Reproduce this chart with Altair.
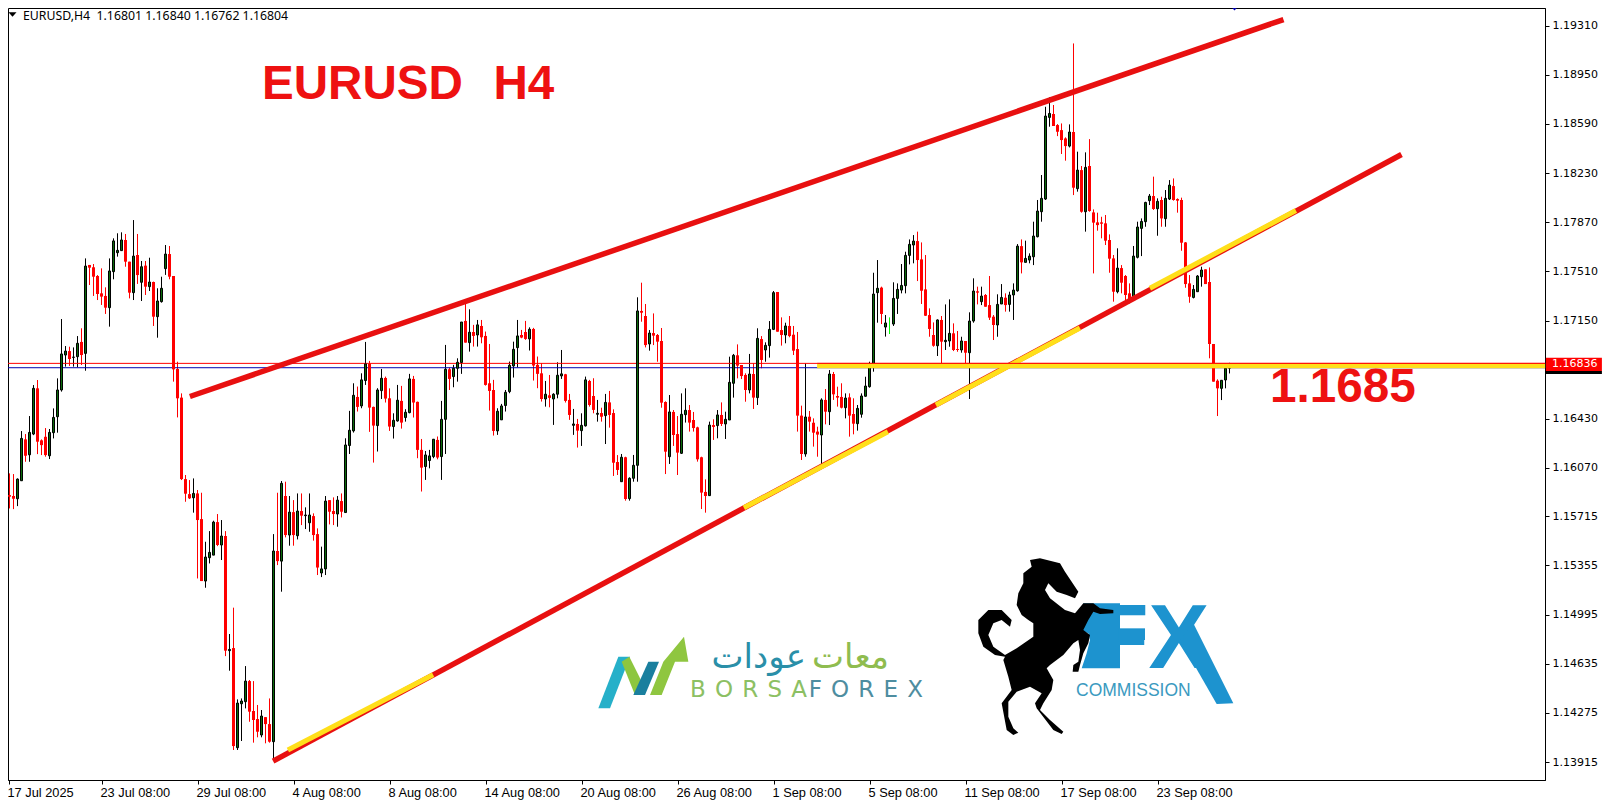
import altair as alt
import pandas as pd

# Prices are written as the digits after "1." (1.16836 -> 16836)
open_pts = [
16018,15871,15864,15844,15976,16279,16166,16318,16653,16272,
16298,16159,16328,16445,16641,16897,16926,16880,16885,16993,
16909,17557,17540,17476,17349,17330,17244,17508,17647,17662,
17740,17581,17354,17630,17430,17552,17398,17432,17178,17288,
17530,17637,17476,16795,16585,15988,15878,15851,15883,15695,
15241,15412,15431,15673,15505,15571,14731,14750,14020,14342,
14357,14508,14289,14230,14113,14244,14193,14064,15461,15387,
15864,15578,15746,15573,15754,15720,15668,15717,15585,15300,
15330,15834,15754,15732,15827,15743,16234,16341,16590,16524,
16710,16832,16517,16380,16636,16729,16580,16373,16414,16561,
16439,16475,16722,16554,16202,16080,16124,16153,16275,16153,
16426,16793,16739,16800,16842,17147,16988,17066,17044,17110,
17037,16690,16641,16341,16422,16527,16629,16817,16951,17044,
17066,17015,17088,16825,16763,16575,16602,16575,16610,16744,
16756,16568,16382,16392,16343,16378,16707,16597,16463,16472,
16453,16550,16472,16113,15969,16148,15845,15994,16089,17220,
17183,16978,17058,17044,17000,16553,16152,16480,16318,16177,
16460,16494,16421,16367,16148,15894,15867,16384,16380,16458,
16392,16421,16690,16895,16824,16751,16641,16758,16585,17014,
16934,16966,17085,17359,17080,17044,17110,17046,16941,16453,
16172,16445,16401,16336,16311,16568,16482,16758,16597,16590,
16511,16587,16465,16394,16463,16595,16665,16824,17354,17391,
17102,17129,17124,17312,17373,17405,17627,17703,17732,17598,
17378,17190,17044,16965,17154,16995,17000,17056,16941,16934,
17000,16914,17146,17364,17288,17337,17263,17178,17117,17271,
17317,17268,17337,17368,17695,17576,17593,17617,17764,17947,
18040,18638,18663,18582,18545,18484,18428,18531,18116,18252,
17947,18282,17942,17869,17869,17862,17740,17605,17361,17534,
17476,17349,17324,17613,17825,17874,18028,18062,17969,18033,
17896,18040,18135,18040,18033,17722,17422,17319,17361,17471,
17525,17432,16978,16709,16653,16714,16801]
high_pts = [
16047,16030,16025,15993,16340,16318,16450,16677,16714,16279,
16362,16355,16506,16726,17161,16963,16958,16953,17036,17093,
17605,17557,17564,17483,17532,17393,17605,17752,17789,17796,
17784,17581,17886,17784,17586,17586,17610,17435,17386,17471,
17703,17696,17476,16848,16616,16018,15981,15993,15908,15888,
15529,15607,15683,15732,15688,15607,14853,15046,14374,14381,
14618,14516,14508,14333,14296,14244,14381,15585,15888,15974,
15969,15864,15834,15883,15883,15781,15883,15737,15627,15493,
15864,15834,15854,15864,15883,16287,16488,16690,16666,16763,
16993,16854,16519,16654,16795,16739,16653,16470,16678,16671,
16500,16759,16744,16556,16282,16194,16202,16282,16300,16561,
16971,16805,16825,16873,17139,17276,17232,17118,17154,17154,
17069,16978,16715,16507,16539,16641,16849,16995,17154,17081,
17147,17100,17096,16886,16837,16707,16751,16617,16844,16934,
16759,16612,16502,16429,16470,16739,16715,16727,16568,16511,
16612,16634,16499,16164,16172,16152,16001,16165,17320,17427,
17271,17080,17202,17051,17095,16558,16604,16494,16450,16616,
16653,16531,16480,16372,16152,15986,16409,16426,16494,16550,
16482,16885,16905,16975,16824,16763,16905,16836,17093,17036,
16990,17146,17366,17359,17173,17134,17183,17110,17066,16526,
16836,16487,16433,16372,16580,16648,16787,16773,16665,16690,
16616,16616,16580,16531,16616,16738,16848,17500,17593,17398,
17190,17173,17430,17422,17564,17654,17744,17776,17801,17722,
17630,17239,17136,17158,17183,17268,17305,17129,17073,17031,
17000,17210,17459,17398,17398,17344,17476,17190,17342,17417,
17349,17361,17422,17710,17744,17735,17642,17874,18033,18216,
18716,18785,18729,18589,18594,18492,18587,19180,18387,18282,
18382,18479,17964,17940,17910,17923,17781,17630,17679,17556,
17483,17422,17696,17874,17898,18020,18077,18204,18045,18057,
18106,18179,18191,18045,18050,17725,17483,17410,17483,17544,
17525,17539,16978,16719,16714,16836,16840]
low_pts = [
15571,15773,15768,15790,15976,16115,16115,16310,16171,16164,
16152,16135,16286,16328,16629,16812,16817,16812,16807,16824,
16782,17410,17330,17300,17264,17198,17105,17452,17618,17660,
17544,17312,17300,17418,17293,17337,17366,17110,17024,17281,
17484,17452,16702,16440,15981,15822,15842,15742,15260,15241,
15192,15370,15431,15497,15395,14691,14584,14003,14003,14069,
14308,14210,14057,14096,14096,14052,14057,13934,15358,15163,
15561,15500,15500,15546,15651,15622,15602,15537,15285,15270,
15285,15656,15651,15639,15707,15743,16172,16329,16483,16507,
16678,16334,16109,16190,16575,16549,16341,16285,16409,16358,
16409,16470,16439,16141,15897,15982,16067,16141,16133,15982,
16172,16641,16661,16702,16759,16988,16922,16959,16959,16983,
16673,16490,16307,16312,16422,16483,16617,16732,16807,17020,
17008,16930,16710,16654,16556,16519,16514,16385,16580,16722,
16549,16422,16312,16219,16231,16373,16519,16470,16409,16409,
16245,16365,16011,16018,15969,15830,15830,15969,15969,17141,
16953,16929,16970,16848,16511,16025,16099,16231,16018,16172,
16402,16336,16336,16116,15769,15742,15864,16275,16287,16377,
16282,16421,16585,16726,16721,16555,16616,16502,16531,16800,
16848,16878,17080,17068,16966,16983,17027,16897,16336,16128,
16152,16336,16226,16152,16099,16389,16384,16568,16519,16506,
16433,16299,16316,16343,16438,16592,16658,16775,17134,17124,
17032,17051,17110,17198,17349,17349,17561,17569,17439,17271,
17183,17031,16958,16890,16836,16934,16958,16926,16921,16914,
16836,16575,17134,17268,17263,17251,17154,17007,17031,17271,
17215,17215,17154,17361,17495,17576,17569,17556,17759,17874,
18033,18570,18575,18501,18370,18321,18418,18069,18094,17940,
17801,17947,17495,17808,17752,17703,17500,17288,17349,17349,
17300,17275,17312,17605,17622,17837,17996,17960,17771,17837,
17837,18033,18028,17940,17661,17390,17280,17312,17361,17398,
17417,16873,16702,16450,16567,16653,16762]
close_pts = [
15871,15859,15844,15988,16286,16159,16330,16653,16262,16237,
16164,16330,16440,16641,16905,16926,16868,16882,16983,16897,
17549,17537,17471,17344,17325,17244,17513,17733,17664,17740,
17581,17354,17622,17483,17544,17398,17432,17178,17293,17386,
17637,17471,16792,16580,15988,15881,15847,15883,15688,15241,
15417,15451,15673,15505,15571,14731,14740,14032,14347,14362,
14508,14284,14223,14137,14252,14193,14064,15461,15387,15957,
15578,15746,15578,15754,15720,15725,15725,15578,15340,15330,
15827,15749,15732,15834,15749,16238,16346,16602,16517,16715,
16832,16512,16380,16641,16727,16578,16373,16419,16566,16402,
16478,16722,16549,16202,16072,16165,16158,16280,16146,16426,
16793,16722,16800,16844,17139,16988,17064,17037,17118,17027,
16678,16634,16341,16485,16524,16624,16822,16939,17037,17025,
17015,17086,16820,16759,16575,16610,16583,16610,16749,16759,
16561,16458,16392,16343,16382,16715,16531,16495,16470,16445,
16550,16458,16108,16055,16148,15842,15994,16089,17220,17207,
16970,17058,17039,16995,16548,16189,16480,16311,16182,16463,
16492,16402,16362,16133,15889,15864,16384,16370,16458,16392,
16426,16697,16895,16819,16743,16641,16758,16585,17019,16861,
16968,17085,17354,17068,17044,17110,17036,16929,16453,16172,
16443,16409,16328,16314,16568,16482,16758,16609,16585,16511,
16582,16453,16394,16506,16597,16670,16824,17344,17386,17198,
17132,17129,17312,17378,17407,17627,17708,17732,17593,17368,
17185,17088,16965,17154,16995,17005,17056,16934,16934,17000,
16914,17146,17366,17354,17329,17251,17171,17117,17268,17319,
17263,17337,17373,17695,17576,17605,17622,17769,17952,18045,
18648,18667,18575,18533,18472,18428,18531,18123,18252,17947,
18272,17952,17867,17849,17859,17735,17603,17361,17534,17427,
17337,17305,17622,17835,17876,18015,18062,17967,18023,17898,
18045,18142,18033,18028,17720,17417,17324,17378,17476,17520,
17417,16978,16702,16653,16712,16800,16804]

x_tick_labels = ["17 Jul 2025", "23 Jul 08:00", "29 Jul 08:00", "4 Aug 08:00", "8 Aug 08:00",
                 "14 Aug 08:00", "20 Aug 08:00", "26 Aug 08:00", "1 Sep 08:00", "5 Sep 08:00",
                 "11 Sep 08:00", "17 Sep 08:00", "23 Sep 08:00"]
y_ticks = [1.19310, 1.18950, 1.18590, 1.18230, 1.17870, 1.17510, 1.17150,
           1.16430, 1.16070, 1.15715, 1.15355, 1.14995, 1.14635, 1.14275, 1.13915]
ask, bid = 1.16836, 1.16804
header = "EURUSD,H4\u00a0\u00a01.16801 1.16840 1.16762 1.16804"

# Drawn lines: name, start bar, start price, end bar, end price
red_lines = [("upper", 46.1, 1.16593, 319.5, 1.19355),
             ("lower", 66.9, 1.13922, 349.0, 1.18366)]
yellow_lines = [("a", 70.6, 1.14003, 106.9, 1.14555),
                ("b", 184.6, 1.15778, 220.6, 1.16335),
                ("c", 232.6, 1.16531, 268.6, 1.17095),
                ("d", 286.1, 1.17386, 322.6, 1.17956),
                ("level", 202.9, 1.16819, 384.9, 1.16819)]

W, H = 1537, 772
x_scale = alt.Scale(domain=[0.625, 384.875], nice=False, zero=False, padding=0)
y_scale = alt.Scale(domain=[1.137833, 1.194397], nice=False, zero=False, padding=0)

df = pd.DataFrame({"i": range(len(open_pts)),
                   "o": [1 + v / 1e5 for v in open_pts], "h": [1 + v / 1e5 for v in high_pts],
                   "l": [1 + v / 1e5 for v in low_pts], "c": [1 + v / 1e5 for v in close_pts]})
df["top"] = df[["o", "c"]].max(axis=1)
df["bot"] = df[["o", "c"]].min(axis=1)
df["up"] = df["c"] >= df["o"]
df["wick"] = ["#ff0000" if not u else "#000000" for u in df["up"]]
df.loc[221, "wick"] = "#00ff00"

X = alt.X("i:Q", scale=x_scale, title=None)
Y = alt.Y("p:Q", scale=y_scale, title=None)


def Yf(field):
    return alt.Y(field, scale=y_scale, title=None)


x_axis = alt.Axis(values=[0.75] + [24 * k for k in range(1, 13)], title=None, grid=False,
                  labelExpr="[" + ",".join(f"'{t}'" for t in x_tick_labels) + "][round(datum.value/24)]",
                  labelAlign="left", labelFont="Liberation Sans", labelFontSize=12.8, labelColor="#000",
                  labelPadding=2, labelOffset=-1.5, labelOverlap=False, labelBound=False, labelFlush=False,
                  tickSize=4, tickColor="#000", domainColor="#000")
y_axis = alt.Axis(values=y_ticks, orient="right", title=None, grid=False, format=".5f",
                  labelFont="DejaVu Sans", labelFontSize=11, labelColor="#000", labelPadding=3,
                  labelOverlap=False, labelBound=False, tickSize=4, tickColor="#000", domainColor="#000")

wicks = alt.Chart(df).mark_rule(strokeWidth=1).encode(
    x=alt.X("i:Q", scale=x_scale, axis=x_axis, title=None),
    y=alt.Y("l:Q", scale=y_scale, axis=y_axis, title=None), y2="h:Q",
    color=alt.Color("wick:N", scale=None))

price_df = pd.DataFrame({"p": [ask, bid], "col": ["#ff0000", "#0000b0"]})
price_rules = alt.Chart(price_df).mark_rule(strokeWidth=1).encode(
    y=Y, color=alt.Color("col:N", scale=None))

down_bodies = alt.Chart(df[~df["up"]]).mark_bar(size=3, color="#ff0000").encode(
    x=X, y=Yf("top:Q"), y2="bot:Q")
up_bodies = alt.Chart(df[df["up"] & (df["i"] != 221)]).mark_bar(
    size=2, color="#0b6b0b", stroke="#000000", strokeWidth=1).encode(
    x=X, y=Yf("top:Q"), y2="bot:Q")


def line_df(lines):
    rows = []
    for name, x0, p0, x1, p1 in lines:
        rows += [{"name": name, "i": x0, "p": p0}, {"name": name, "i": x1, "p": p1}]
    return pd.DataFrame(rows)


red_layer = alt.Chart(line_df(red_lines)).mark_line(color="#e81010", strokeWidth=5.5, strokeCap="butt").encode(
    x=X, y=Y, detail="name:N")
yellow_layer = alt.Chart(line_df(yellow_lines)).mark_line(color="#ffdf1a", strokeWidth=5, strokeCap="butt").encode(
    x=X, y=Y, detail="name:N")
ask_over = alt.Chart(pd.DataFrame({"i": [202.9, 384.9], "p": [ask, ask]})).mark_line(
    color="#ff0000", strokeWidth=1).encode(x=X, y=Y)

boxes = pd.DataFrame({"i": [385.1, 385.1], "i2": [399.1, 399.1], "p": [1.16780, 1.16877],
                      "p2": [1.16758, 1.16780], "col": ["#000000", "#ff0000"]})
box_layer = alt.Chart(boxes).mark_rect().encode(
    x=X, x2="i2:Q", y=Y, y2="p2:Q", color=alt.Color("col:N", scale=None))
box_text = alt.Chart(pd.DataFrame({"i": [386.6], "p": [1.16829], "t": ["1.16836"]})).mark_text(
    align="left", baseline="middle", font="DejaVu Sans", fontSize=11, color="#ffffff").encode(x=X, y=Y, text="t:N")


def txt(text, px, py, size, color, font="Liberation Sans", weight="normal", align="left"):
    return alt.Chart(pd.DataFrame({"t": [text]})).mark_text(
        align=align, baseline="middle", font=font, fontSize=size, fontWeight=weight, color=color
    ).encode(x=alt.value(px - 8), y=alt.value(py - 8), text="t:N")


def shape(points, page_cx, page_cy, side, zc, color):
    half = zc[2]
    path = "M" + " L".join(f"{(a - zc[0]) / half:.4f} {(b - zc[1]) / half:.4f}" for a, b in points) + " Z"
    return alt.Chart(pd.DataFrame({"a": [0]})).mark_point(
        shape=path, size=side * side, filled=True, color=color, opacity=1, strokeWidth=0
    ).encode(x=alt.value(page_cx - 8), y=alt.value(page_cy - 8))


horse_outline = [(240,60),(270,55),(330,70),(345,95),(385,155),(375,175),(350,165),(320,155),(295,130),(285,150),
    (300,175),(345,210),(375,220),(400,190),(430,190),(450,205),(490,210),(490,220),(450,222),(430,215),(415,240),
    (400,270),(420,285),(415,310),(400,340),(390,375),(385,395),(368,395),(370,375),(385,365),(390,330),(385,300),
    (370,310),(340,345),(300,375),(290,385),(310,420),(305,450),(280,490),(270,510),(300,540),(340,575),(335,582),
    (310,570),(260,505),(255,490),(275,460),(240,440),(200,455),(175,485),(175,530),(190,565),(205,578),(190,585),
    (170,570),(155,490),(185,450),(175,410),(160,360),(165,350),(135,345),(100,320),(85,280),(85,240),(115,210),
    (155,210),(185,240),(180,260),(155,240),(130,250),(115,285),(130,320),(165,345),(200,325),(250,290),(250,250),
    (235,240),(215,225),(200,195),(205,160),(220,130),(220,100),(245,80)]
f_block = [(400,190),(510,190),(510,385),(395,385),(410,340),(420,300),(415,280),(370,265),(395,215)]
f_bars = [(505,265),(585,265),(585,300),(505,300)]
x_leg = [(690,300),(730,250),(850,490),(800,492)]
fx_zone = (300, 300, 300)
n_zone = (200, 150, 150)
gap = "\u2009\u200a\u200a"

logos = [
    txt("FX", 1093, 641, 91, "#1d93cf", weight="bold"),
    shape(f_block, 1050, 640, 200, fx_zone, "#1d93cf"),
    shape(f_bars, 1050, 640, 200, fx_zone, "#1d93cf"),
    shape(x_leg, 1050, 640, 200, fx_zone, "#1d93cf"),
    shape(horse_outline, 1050, 640, 200, fx_zone, "#000000"),
    txt("COMMISSION", 1076, 691, 17.5, "#3a9abf"),
    shape([(115,110),(150,110),(90,265),(55,265)], 646.67, 670, 100, n_zone, "#26b0c9"),
    shape([(148,110),(195,205),(165,225),(125,125)], 646.67, 670, 100, n_zone, "#8dc63f"),
    shape([(205,125),(237,125),(195,225),(160,225)], 646.67, 670, 100, n_zone, "#1a7f9e"),
    shape([(250,125),(312,50),(325,125),(285,125),(245,225),(210,225)], 646.67, 670, 100, n_zone, "#8fc640"),
    txt("معات", 889, 658, 34, "#8fbc4f", font="DejaVu Sans", align="right"),
    txt("عودات", 806, 658, 34, "#2a8fa8", font="DejaVu Sans", align="right"),
    txt(gap.join("BORSA"), 690, 690, 23, "#8cc063", font="DejaVu Sans"),
    txt(gap.join("FOREX"), 923, 690, 23, "#4e8da0", font="DejaVu Sans", align="right"),
]

texts = [
    txt(header, 23, 16, 12.3, "#000000", font="Noto Sans"),
    shape([(-1, -0.55), (1, -0.55), (0, 0.55)], 12.5, 14.5, 8, (0, 0, 1), "#000000"),
    shape([(-1, -0.55), (1, -0.55), (0, 0.55)], 1234.5, 7.5, 11, (0, 0, 1), "#0000b0"),
    txt("EURUSD\u00a0\u00a0\u200aH4", 262, 85, 47.6, "#ee1111", weight="bold"),
    txt("1.1685", 1270, 388, 47.7, "#ee1111", weight="bold"),
]

chart = alt.layer(wicks, price_rules, down_bodies, up_bodies, red_layer, yellow_layer, ask_over,
                  box_layer, box_text, *logos, *texts).properties(
    width=W, height=H,
    padding={"left": 0, "top": 0, "right": 57, "bottom": 22},
    autosize=alt.AutoSizeParams(type="none"),
    background="#ffffff",
).configure_view(stroke="#000000", strokeWidth=1)

chart.save("out.html", embed_options={"renderer": "svg", "actions": False})
